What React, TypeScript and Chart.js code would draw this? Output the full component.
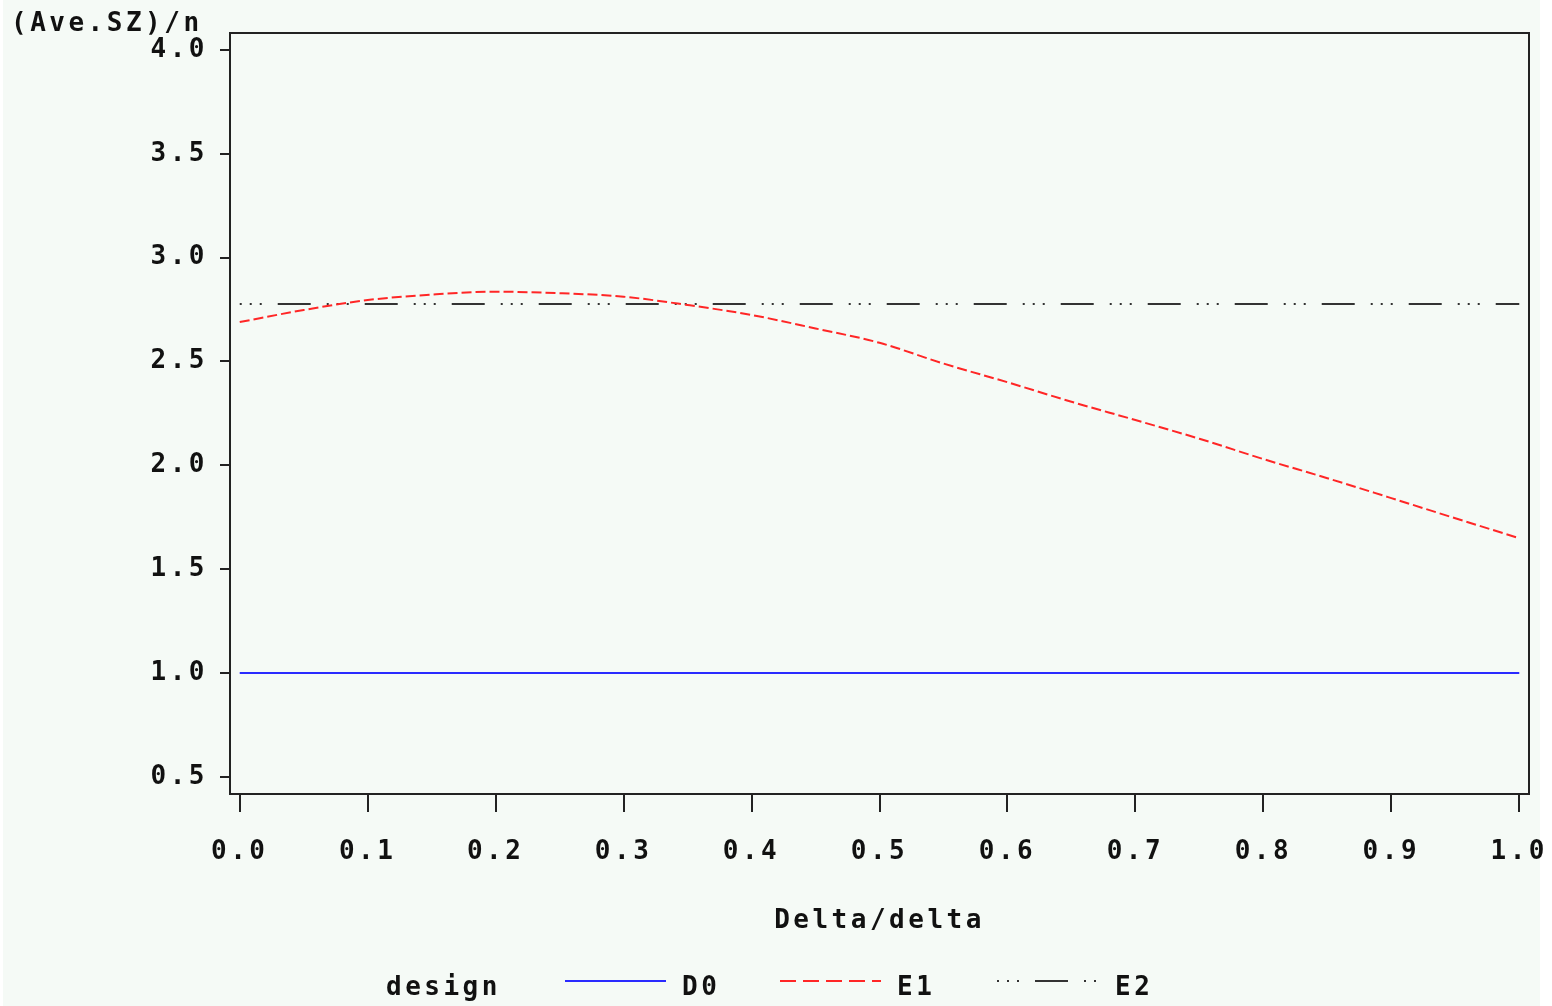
import React, { useEffect, useRef } from 'react';
import { Chart, registerables } from 'chart.js';

Chart.register(...registerables);

// ---- data ----
const deltaValues = [0, 0.05, 0.1, 0.15, 0.2, 0.25, 0.3, 0.35, 0.4, 0.45, 0.5, 0.55, 0.6, 0.65, 0.7, 0.75, 0.8, 0.85, 0.9, 0.95, 1.0];
const d0Values = [1, 1, 1, 1, 1, 1, 1, 1, 1, 1, 1, 1, 1, 1, 1, 1, 1, 1, 1, 1, 1];
const e1Values = [2.69, 2.748, 2.796, 2.822, 2.836, 2.829, 2.812, 2.772, 2.724, 2.659, 2.59, 2.49, 2.4, 2.306, 2.218, 2.128, 2.03, 1.938, 1.842, 1.745, 1.649];
const e2Values = [2.777, 2.777, 2.777, 2.777, 2.777, 2.777, 2.777, 2.777, 2.777, 2.777, 2.777, 2.777, 2.777, 2.777, 2.777, 2.777, 2.777, 2.777, 2.777, 2.777, 2.777];
const seriesNames = ['D0', 'E1', 'E2'];
const xTickValues = [0, 0.1, 0.2, 0.3, 0.4, 0.5, 0.6, 0.7, 0.8, 0.9, 1.0];
const yTickValues = [0.5, 1.0, 1.5, 2.0, 2.5, 3.0, 3.5, 4.0];
const xAxisTitle = 'Delta/delta';
const yAxisTitle = '(Ave.SZ)/n';
const legendTitle = 'design';

// ---- styles ----
const FONT = '"DejaVu Sans Mono", "Liberation Mono", monospace';
const BG = '#f5faf6';
const INK = '#111111';
const FRAME = '#222222';
const COLORS = ['#2a2aff', '#ff2626', '#333333'];
const DASHES: number[][] = [[], [10, 4], [2, 8, 2, 8, 2, 16, 33, 16]];
const LEGEND_DASHES: number[][] = [[], [16, 7], [2, 8, 2, 8, 2, 16, 33, 16]];

const sasPlugin = {
  id: 'sasDecor',
  beforeDraw(chart: any) {
    const ctx = chart.ctx;
    ctx.save();
    ctx.fillStyle = BG;
    ctx.fillRect(3, 0, 1537, chart.height);
    ctx.restore();
    ctx.letterSpacing = '3.5px';
  },
  afterDraw(chart: any) {
    const ctx = chart.ctx;
    const a = chart.chartArea;
    ctx.save();
    ctx.letterSpacing = '3.5px';
    // frame
    ctx.strokeStyle = FRAME;
    ctx.lineWidth = 2;
    ctx.setLineDash([]);
    ctx.strokeRect(a.left, a.top, a.right - a.left, a.bottom - a.top);
    // y title
    ctx.fillStyle = INK;
    ctx.font = `bold 26px ${FONT}`;
    ctx.textAlign = 'left';
    ctx.textBaseline = 'middle';
    ctx.fillText(yAxisTitle, 11, 24);
    // legend
    const ly = 981;
    ctx.fillText(legendTitle, 386, 988);
    const sampleX = [565, 780, 997];
    const labelX = [682, 897, 1115];
    seriesNames.forEach((name, i) => {
      ctx.beginPath();
      ctx.strokeStyle = COLORS[i];
      ctx.lineWidth = 2;
      ctx.setLineDash(LEGEND_DASHES[i]);
      ctx.moveTo(sampleX[i], ly);
      ctx.lineTo(sampleX[i] + 101, ly);
      ctx.stroke();
      ctx.setLineDash([]);
      ctx.fillStyle = INK;
      ctx.fillText(name, labelX[i], 988);
    });
    ctx.restore();
  },
};

export default function App() {
  const ref = useRef<HTMLCanvasElement | null>(null);
  useEffect(() => {
    document.body.style.margin = '0';
    const canvas = ref.current;
    if (!canvas) return;
    const mk = (vals: number[]) => deltaValues.map((x, i) => ({ x, y: vals[i] }));
    const allVals = [d0Values, e1Values, e2Values];
    const chart = new Chart(canvas, {
      type: 'line',
      data: {
        datasets: seriesNames.map((name, i) => ({
          label: name,
          data: mk(allVals[i]),
          borderColor: COLORS[i],
          backgroundColor: COLORS[i],
          borderWidth: 2,
          borderDash: DASHES[i],
          pointRadius: 0,
          fill: false,
          cubicInterpolationMode: 'monotone' as const,
        })),
      },
      options: {
        animation: false,
        responsive: true,
        maintainAspectRatio: false,
        layout: { padding: { left: 0, top: 33, right: 23, bottom: 62 } },
        plugins: { legend: { display: false }, title: { display: false }, tooltip: { enabled: false } },
        scales: {
          x: {
            type: 'linear',
            min: -0.0076,
            max: 1.0076,
            afterBuildTicks: (s: any) => { s.ticks = xTickValues.map((v) => ({ value: v })); },
            afterFit: (s: any) => { s.height = 150; s.paddingLeft = 0; s.paddingRight = 0; },
            border: { display: false },
            grid: { drawOnChartArea: false, drawTicks: true, tickLength: 18, color: FRAME, lineWidth: 2 },
            ticks: {
              color: INK,
              padding: 25,
              maxRotation: 0,
              autoSkip: false,
              font: { family: FONT, size: 26, weight: 'bold' },
              callback: (v: any) => Number(v).toFixed(1),
            },
            title: {
              display: true,
              text: xAxisTitle,
              color: INK,
              font: { family: FONT, size: 26, weight: 'bold' },
              padding: { top: 0, bottom: 7 },
            },
          },
          y: {
            type: 'linear',
            min: 0.417,
            max: 4.082,
            afterBuildTicks: (s: any) => { s.ticks = yTickValues.map((v) => ({ value: v })); },
            afterFit: (s: any) => { s.width = 230; s.paddingTop = 0; s.paddingBottom = 0; },
            border: { display: false },
            grid: { drawOnChartArea: false, drawTicks: true, tickLength: 10, color: FRAME, lineWidth: 2 },
            ticks: {
              color: INK,
              padding: 12,
              autoSkip: false,
              font: { family: FONT, size: 26, weight: 'bold' },
              callback: (v: any) => Number(v).toFixed(1),
            },
          },
        },
      },
      plugins: [sasPlugin],
    } as any);
    return () => chart.destroy();
  }, []);
  return (
    <div style={{ position: 'relative', width: 1552, height: 1006, background: '#ffffff' }}>
      <canvas ref={ref} />
    </div>
  );
}
